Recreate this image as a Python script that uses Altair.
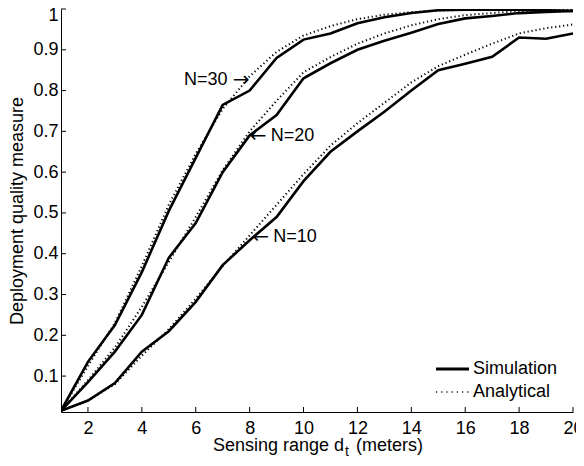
import altair as alt
import pandas as pd

# ---- data ----
x_vals = list(range(1, 21))

sim_n10 = [0.015, 0.040, 0.083, 0.160, 0.210, 0.282, 0.372, 0.433, 0.490, 0.578,
           0.650, 0.700, 0.748, 0.800, 0.850, 0.866, 0.883, 0.930, 0.927, 0.940]
ana_n10 = [0.015, 0.040, 0.080, 0.150, 0.215, 0.290, 0.370, 0.445, 0.520, 0.595,
           0.665, 0.720, 0.770, 0.820, 0.860, 0.888, 0.915, 0.940, 0.953, 0.962]

sim_n20 = [0.015, 0.085, 0.160, 0.250, 0.390, 0.475, 0.600, 0.690, 0.740, 0.830,
           0.867, 0.900, 0.922, 0.942, 0.963, 0.977, 0.983, 0.990, 0.993, 0.995]
ana_n20 = [0.015, 0.090, 0.170, 0.270, 0.380, 0.490, 0.605, 0.700, 0.775, 0.845,
           0.882, 0.915, 0.940, 0.960, 0.975, 0.985, 0.990, 0.995, 0.997, 0.998]

sim_n30 = [0.015, 0.135, 0.225, 0.355, 0.505, 0.635, 0.765, 0.800, 0.880, 0.925,
           0.940, 0.965, 0.980, 0.990, 0.997, 0.998, 0.998, 0.998, 0.997, 0.995]
ana_n30 = [0.015, 0.125, 0.230, 0.370, 0.520, 0.645, 0.755, 0.835, 0.895, 0.935,
           0.958, 0.975, 0.986, 0.992, 0.996, 0.998, 0.999, 0.999, 1.000, 1.000]

x_ticks = [2, 4, 6, 8, 10, 12, 14, 16, 18, 20]
y_ticks = [0.1, 0.2, 0.3, 0.4, 0.5, 0.6, 0.7, 0.8, 0.9, 1.0]

legend_labels = ["Simulation", "Analytical"]

# annotation targets (data coordinates of the arrow tips)
ann_right_label = ["N=30"]
ann_right_x = [8.0]
ann_right_y = [0.825]
ann_left_label = ["N=20", "N=10"]
ann_left_x = [8.0, 8.1]
ann_left_y = [0.688, 0.441]

# ---- build tables ----
rows = []
for n, sim, ana in [("10", sim_n10, ana_n10), ("20", sim_n20, ana_n20), ("30", sim_n30, ana_n30)]:
    for xv, s, a in zip(x_vals, sim, ana):
        rows.append({"x": xv, "value": s, "N": n, "type": "Simulation"})
        rows.append({"x": xv, "value": a, "N": n, "type": "Analytical"})
df = pd.DataFrame(rows)
df_sim = df[df["type"] == "Simulation"]
df_ana = df[df["type"] == "Analytical"]

FONT = "Liberation Sans"
ARROW_FONT = "DejaVu Sans"
W, H = 512, 403

xscale = alt.Scale(domain=[1, 20], nice=False, zero=False)
yscale = alt.Scale(domain=[0.012, 1], nice=False, zero=False)

x_axis = alt.Axis(values=x_ticks, ticks=False, grid=False, title=None,
                  labelFont=FONT, labelFontSize=18, labelColor="black",
                  labelPadding=7, domainColor="black", domainWidth=1,
                  labelFlush=False, labelOverlap=False)
y_axis = alt.Axis(values=y_ticks, ticks=False, grid=False, format="~g",
                  title="Deployment quality measure", titleFont=FONT,
                  titleFontSize=18, titleFontWeight="normal", titleColor="black",
                  titlePadding=6,
                  labelFont=FONT, labelFontSize=18, labelColor="black",
                  labelPadding=3, domainColor="black", domainWidth=1,
                  labelFlush=1, labelFlushOffset=3, labelOverlap=False)

ana_lines = alt.Chart(df_ana).mark_line(
    color="black", strokeWidth=2, strokeDash=[1.2, 2.8], clip=True
).encode(
    x=alt.X("x:Q", scale=xscale, axis=x_axis),
    y=alt.Y("value:Q", scale=yscale, axis=y_axis),
    detail="N:N",
)

sim_lines = alt.Chart(df_sim).mark_line(
    color="black", strokeWidth=2.6, clip=True
).encode(
    x=alt.X("x:Q", scale=xscale),
    y=alt.Y("value:Q", scale=yscale),
    detail="N:N",
)

# inward ticks
xt = pd.DataFrame({"t": x_ticks})
yt = pd.DataFrame({"t": y_ticks})
x_tick_rules = alt.Chart(xt).mark_rule(color="black", strokeWidth=1).encode(
    x=alt.X("t:Q", scale=xscale),
    y=alt.value(H),
    y2=alt.value(H - 5),
)
y_tick_rules = alt.Chart(yt).mark_rule(color="black", strokeWidth=1).encode(
    y=alt.Y("t:Q", scale=yscale),
    x=alt.value(0),
    x2=alt.value(5),
)

# annotations: arrow glyph at the tip, label beside it
ar = pd.DataFrame({"label": ann_right_label, "x": ann_right_x, "y": ann_right_y, "arrow": ["\u2192"]})
al = pd.DataFrame({"label": ann_left_label, "x": ann_left_x, "y": ann_left_y, "arrow": ["\u2190", "\u2190"]})

def txt(data, field, align, dx, font, size):
    return alt.Chart(data).mark_text(
        align=align, baseline="middle", font=font, fontSize=size, color="black", dx=dx
    ).encode(x=alt.X("x:Q", scale=xscale), y=alt.Y("y:Q", scale=yscale), text=f"{field}:N")

ann_r_arrow = txt(ar, "arrow", "right", 0, ARROW_FONT, 20)
ann_r_label = txt(ar, "label", "right", -22, FONT, 18)
ann_l_arrow = txt(al, "arrow", "left", 0, ARROW_FONT, 20)
ann_l_label = txt(al, "label", "left", 21, FONT, 18)

# legend (drawn manually, MATLAB style, no box)
leg = pd.DataFrame({"label": legend_labels, "row": [0, 1]})
leg_sim = alt.Chart(leg[leg["row"] == 0]).mark_rule(color="black", strokeWidth=2.8).encode(
    x=alt.value(375), x2=alt.value(408), y=alt.value(360))
leg_ana = alt.Chart(leg[leg["row"] == 1]).mark_rule(
    color="black", strokeWidth=2, strokeDash=[1.2, 4], opacity=0.7).encode(
    x=alt.value(375), x2=alt.value(408), y=alt.value(383))
leg_t1 = alt.Chart(leg[leg["row"] == 0]).mark_text(
    align="left", baseline="middle", font=FONT, fontSize=18, color="black").encode(
    x=alt.value(412), y=alt.value(360), text="label:N")
leg_t2 = alt.Chart(leg[leg["row"] == 1]).mark_text(
    align="left", baseline="middle", font=FONT, fontSize=18, color="black").encode(
    x=alt.value(412), y=alt.value(383), text="label:N")

# x-axis title with subscript
t1 = alt.Chart(pd.DataFrame({"s": ["Sensing range d"]})).mark_text(
    align="right", baseline="alphabetic", font=FONT, fontSize=18, color="black").encode(
    x=alt.value(283), y=alt.value(442), text="s:N")
t2 = alt.Chart(pd.DataFrame({"s": ["t"]})).mark_text(
    align="left", baseline="alphabetic", font=FONT, fontSize=14, color="black").encode(
    x=alt.value(284), y=alt.value(447), text="s:N")
t3 = alt.Chart(pd.DataFrame({"s": ["(meters)"]})).mark_text(
    align="left", baseline="alphabetic", font=FONT, fontSize=18, color="black").encode(
    x=alt.value(295), y=alt.value(442), text="s:N")

chart = alt.layer(
    ana_lines, sim_lines, x_tick_rules, y_tick_rules,
    ann_r_arrow, ann_r_label, ann_l_arrow, ann_l_label,
    leg_sim, leg_ana, leg_t1, leg_t2, t1, t2, t3,
).properties(
    width=W, height=H,
    autosize=alt.AutoSizeParams(type="none"),
    padding={"left": 53, "top": 1, "right": 3, "bottom": 46},
    background="white",
).configure_view(stroke=None)

chart.save("out.html", embed_options={"renderer": "svg", "actions": False})
